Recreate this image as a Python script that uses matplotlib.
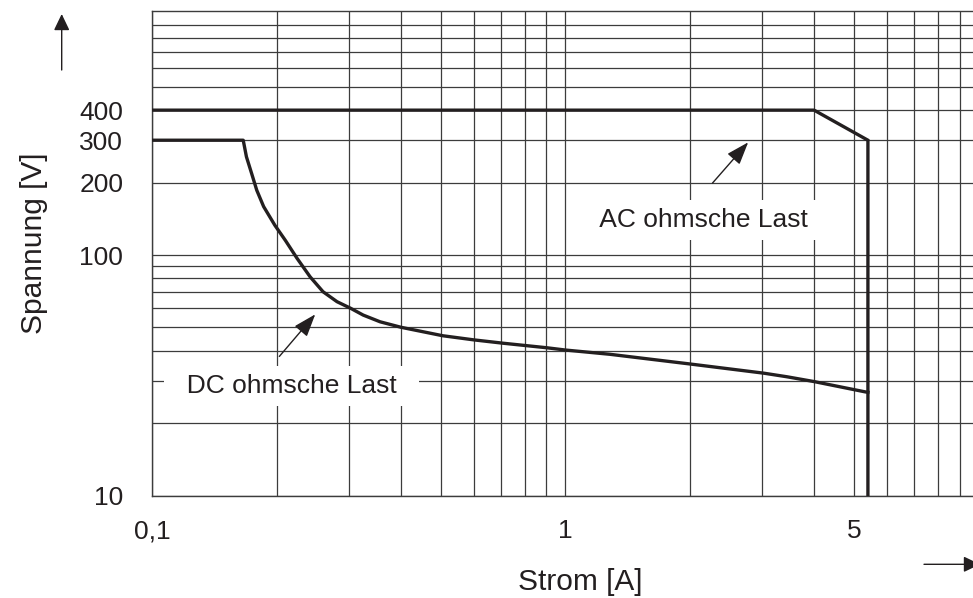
import numpy as np
import matplotlib as mpl
mpl.use('Agg')
import matplotlib.pyplot as plt
from matplotlib.patches import FancyArrowPatch
from matplotlib.ticker import FixedLocator

plt.rcParams['font.family'] = ['Liberation Sans', 'DejaVu Sans']

# AC ohmsche Last
ac_strom = [0.1, 4.0, 5.4, 5.4]
ac_spannung = [400, 400, 300, 10]

# DC ohmsche Last
dc_strom = [0.1, 0.166, 0.169, 0.174, 0.179, 0.186, 0.198, 0.21, 0.224, 0.241,
            0.259, 0.28, 0.302, 0.324, 0.356, 0.4, 0.505, 0.601, 0.708, 0.9,
            1.0, 1.28, 2.02, 3.02, 3.44, 4.0, 5.32, 5.4]
dc_spannung = [300, 300, 256, 218, 186, 159, 133, 115, 97, 81.2,
               70.4, 64.0, 60.1, 56.3, 52.8, 50.1, 46.2, 44.4, 43.0, 41.2,
               40.3, 38.7, 35.2, 32.3, 31.2, 29.8, 27.0, 26.9]

# grid / ticks
x_grid = [0.1, 0.2, 0.3, 0.4, 0.5, 0.6, 0.7, 0.8, 0.9,
          1, 2, 3, 4, 5, 6, 7, 8, 9]
x_labels = {0.1: '0,1', 1: '1', 5: '5'}
y_grid = [10, 20, 30, 40, 50, 60, 70, 80, 90,
          100, 200, 300, 400, 500, 600, 700, 800, 900]
y_labels = {10: '10', 100: '100', 200: '200', 300: '300', 400: '400'}

ink = '#231f20'
gridc = '#3c3c3c'

fig = plt.figure(figsize=(9.73, 5.98), dpi=100)
ax = fig.add_axes([152.3 / 973, 1 - 495.7 / 598, (973 - 152.3) / 973, (495.7 - 11.3) / 598])

ax.set_xscale('log')
ax.set_yscale('log')
ax.set_xlim(0.1, 9.7)
ax.set_ylim(10, 1030)

ax.xaxis.set_major_locator(FixedLocator(x_grid))
ax.xaxis.set_minor_locator(FixedLocator([]))
ax.set_xticklabels([x_labels.get(v, '') for v in x_grid])
ax.yaxis.set_major_locator(FixedLocator(y_grid))
ax.yaxis.set_minor_locator(FixedLocator([]))
ax.set_yticklabels([y_labels.get(v, '') for v in y_grid])

ax.tick_params(axis='both', length=0, labelsize=19, colors=ink)
ax.tick_params(axis='x', pad=17)
ax.tick_params(axis='y', pad=21)
ax.grid(True, which='major', color=gridc, lw=0.9)

for side in ['left', 'bottom', 'top']:
    ax.spines[side].set_color(gridc)
    ax.spines[side].set_linewidth(1.0)
ax.spines['right'].set_visible(False)

ax.plot(ac_strom, ac_spannung, color=ink, lw=2.4, solid_joinstyle='miter', zorder=4)
ax.plot(dc_strom, dc_spannung, color=ink, lw=2.4, solid_joinstyle='round', zorder=4)

# labels with white boxes over the grid
box = dict(boxstyle='square,pad=0.3', fc='white', ec='none')
ax.text(2.17, 139.8, '  AC ohmsche Last  ', fontsize=19, color=ink,
        ha='center', va='center', bbox=box, zorder=3)
ax.text(0.217, 28.6, '  DC ohmsche Last  ', fontsize=19, color=ink,
        ha='center', va='center', bbox=box, zorder=3)

arrow = dict(arrowstyle='-|>,head_length=0.7,head_width=0.25', color=ink, lw=1.0,
             shrinkA=0, shrinkB=0, mutation_scale=20)
ax.annotate('', xy=(2.77, 294), xytext=(2.27, 199), arrowprops=arrow, zorder=5)
ax.annotate('', xy=(0.248, 56.7), xytext=(0.203, 37.9), arrowprops=arrow, zorder=5)

# axis titles
fig.text(41.7 / 973, 1 - 243 / 598, 'Spannung [V]', rotation=90, rotation_mode='anchor',
         ha='center', va='baseline', fontsize=21.5, color=ink)
fig.text(580 / 973, 1 - 590 / 598, 'Strom [A]', ha='center', va='baseline',
         fontsize=21.5, color=ink)


def fig_arrow(p0, p1):
    # p0, p1 in pixels from the top left corner
    a = FancyArrowPatch((p0[0] / 973, 1 - p0[1] / 598), (p1[0] / 973, 1 - p1[1] / 598),
                        transform=fig.transFigure,
                        arrowstyle='-|>,head_length=0.5,head_width=0.24',
                        mutation_scale=20, color=ink, lw=1.0, shrinkA=0, shrinkB=0)
    fig.add_artist(a)


fig_arrow((61.7, 70), (61.7, 14))
fig_arrow((924, 564.3), (980, 564.3))

plt.savefig('out.png', dpi=100)
